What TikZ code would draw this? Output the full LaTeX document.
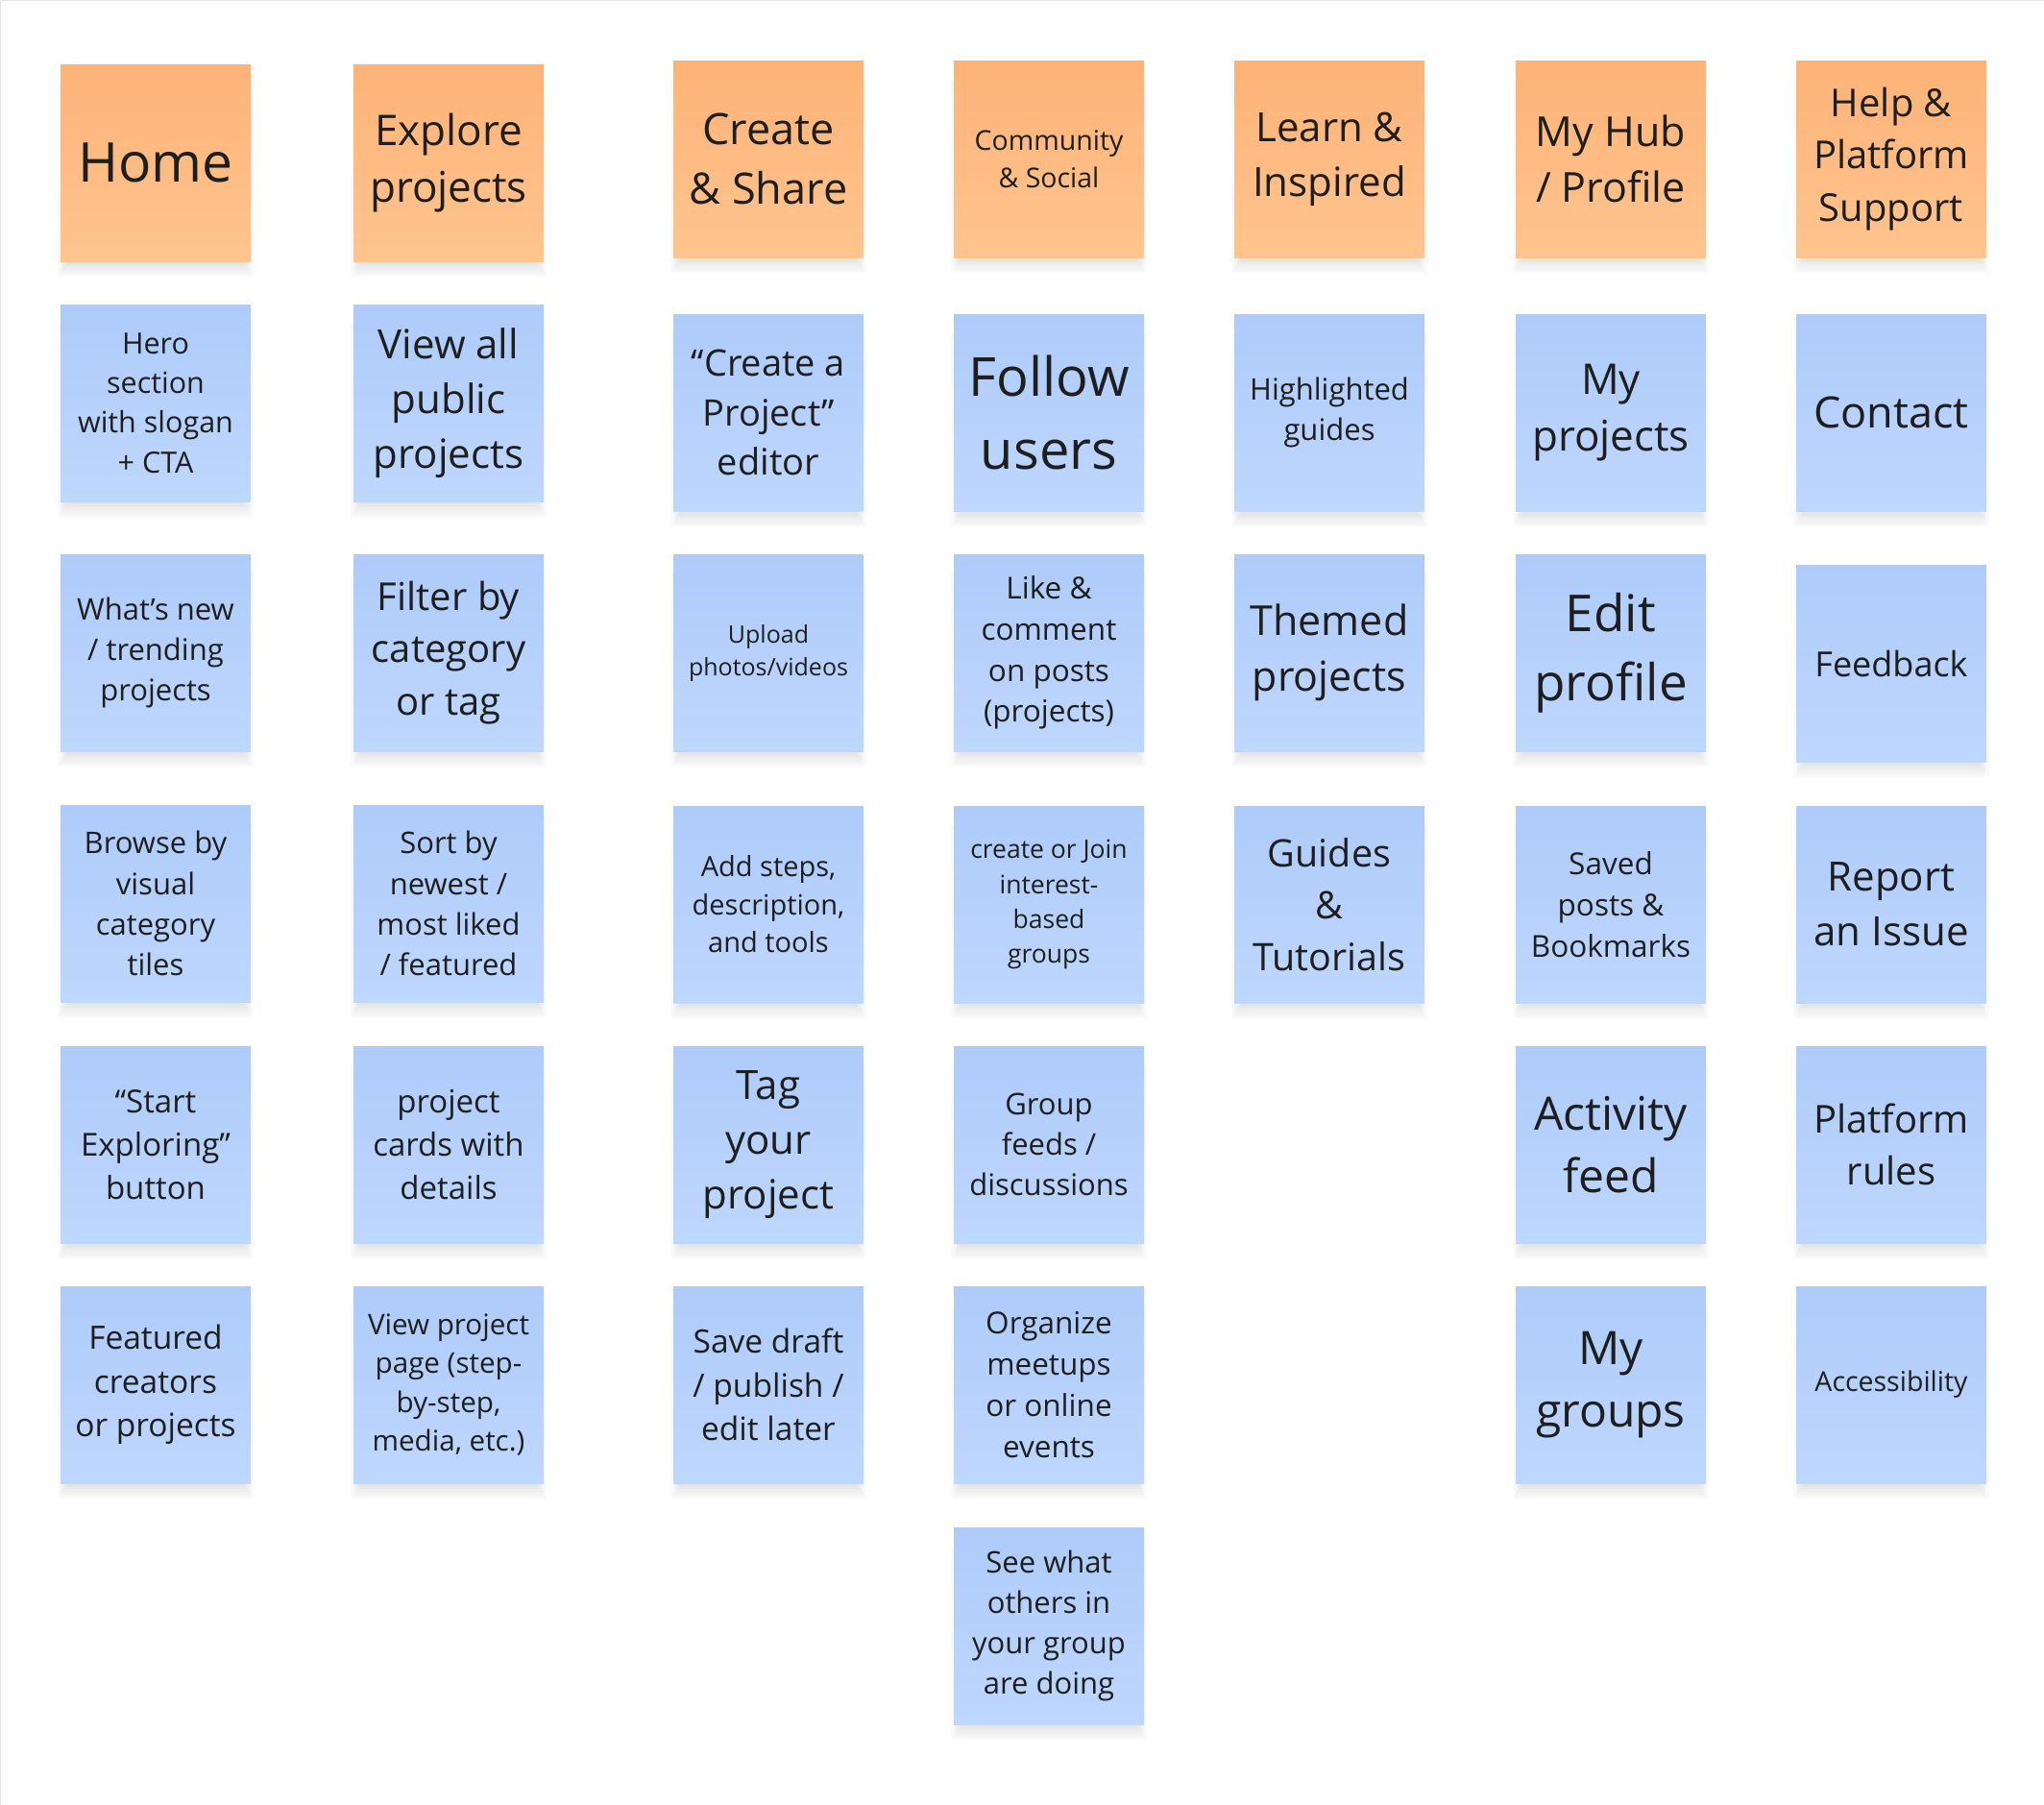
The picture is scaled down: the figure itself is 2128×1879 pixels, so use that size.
\documentclass[tikz,border=0pt]{standalone}
\usepackage{fontspec}
\setmainfont{Open Sans}
\definecolor{orgTop}{HTML}{FDB377}
\definecolor{orgBot}{HTML}{FFC48F}
\definecolor{bluTop}{HTML}{AECBFA}
\definecolor{bluBot}{HTML}{BED7FD}
\definecolor{inkc}{HTML}{1E1E1E}
\definecolor{framec}{HTML}{E6E6E6}
\tikzset{
  notebase/.style={rectangle, inner sep=0pt, minimum width=198pt, minimum height=205pt,
    align=center, text=inkc},
  orgnote/.style={notebase, top color=orgTop, bottom color=orgBot},
  blunote/.style={notebase, top color=bluTop, bottom color=bluBot},
  shadowlayer/.style={fill=black, opacity=0.013, draw=none}
}
\newcommand{\nfont}[1]{\pgfmathsetmacro\mylsk{#1*1.36}\fontsize{#1}{\mylsk}\selectfont}
% #1 name, #2 left x, #3 top y, #4 style, #5 font size, #6 text
\newcommand{\stickynote}[6]{%
  \foreach \k in {0,1,2,3,4,5,6,7,8,9}{%
    \fill[shadowlayer] (#2+8-1.2*\k,#3+20) rectangle (#2+190+1.2*\k,#3+206+1.8*\k);
  }%
  \node[#4, font={\nfont{#5}}] (#1) at (#2+99,#3+102.5) {#6};%
}
\begin{document}
\begin{tikzpicture}[x=1pt,y=-1pt]
\useasboundingbox (0,0) rectangle (2128,1879);
\fill[white] (0,0) rectangle (2128,1879);
\draw[framec, line width=2pt] (0,1879) -- (0,0) -- (2128,0);
% Column 1
\stickynote{home}{63}{67}{orgnote}{57}{Home}
\stickynote{hero}{63}{317}{blunote}{30.5}{Hero\\section\\with slogan\\+ CTA}
\stickynote{whatsnew}{63}{577}{blunote}{31}{What’s new\\/ trending\\projects}
\stickynote{browse}{63}{838}{blunote}{31}{Browse by\\visual\\category\\tiles}
\stickynote{startexp}{63}{1089}{blunote}{33}{“Start\\Exploring”\\button}
\stickynote{featured}{63}{1339}{blunote}{33.5}{Featured\\creators\\or projects}
% Column 2
\stickynote{explore}{368}{67}{orgnote}{44}{Explore\\projects}
\stickynote{viewall}{368}{317}{blunote}{42}{View all\\public\\projects}
\stickynote{filter}{368}{577}{blunote}{40}{Filter by\\category\\or tag}
\stickynote{sortby}{368}{838}{blunote}{31}{Sort by\\newest /\\most liked\\/ featured}
\stickynote{cards}{368}{1089}{blunote}{33}{project\\cards with\\details}
\stickynote{viewpage}{368}{1339}{blunote}{29.6}{View project\\page (step-\\by-step,\\media, etc.)}
% Column 3
\stickynote{create}{701}{63}{orgnote}{45}{Create\\\& Share}
\stickynote{editor}{701}{327}{blunote}{38}{“Create a\\Project”\\editor}
\stickynote{upload}{701}{577}{blunote}{25}{Upload\\photos/videos}
\stickynote{addsteps}{701}{839}{blunote}{29}{Add steps,\\description,\\and tools}
\stickynote{tag}{701}{1089}{blunote}{42}{Tag\\your\\project}
\stickynote{savedraft}{701}{1339}{blunote}{33.5}{Save draft\\/ publish /\\edit later}
% Column 4
\stickynote{community}{993}{63}{orgnote}{28.5}{Community\\\& Social}
\stickynote{follow}{993}{327}{blunote}{56}{Follow\\users}
\stickynote{like}{993}{577}{blunote}{31.5}{Like \&\\comment\\on posts\\(projects)}
\stickynote{join}{993}{839}{blunote}{26.5}{create or Join\\interest-\\based\\groups}
\stickynote{groupfeeds}{993}{1089}{blunote}{31}{Group\\feeds /\\discussions}
\stickynote{meetups}{993}{1339}{blunote}{31.5}{Organize\\meetups\\or online\\events}
\stickynote{seewhat}{993}{1590}{blunote}{31}{See what\\others in\\your group\\are doing}
% Column 5
\stickynote{learn}{1285}{63}{orgnote}{42}{Learn \&\\Inspired}
\stickynote{highlighted}{1285}{327}{blunote}{31}{Highlighted\\guides}
\stickynote{themed}{1285}{577}{blunote}{43}{Themed\\projects}
\stickynote{guides}{1285}{839}{blunote}{39.5}{Guides\\\&\\Tutorials}
% Column 6
\stickynote{myhub}{1578}{63}{orgnote}{43}{My Hub\\/ Profile}
\stickynote{myprojects}{1578}{327}{blunote}{44}{My\\projects}
\stickynote{editprofile}{1578}{577}{blunote}{53}{Edit\\profile}
\stickynote{saved}{1578}{839}{blunote}{31.5}{Saved\\posts \&\\Bookmarks}
\stickynote{activity}{1578}{1089}{blunote}{48}{Activity\\feed}
\stickynote{mygroups}{1578}{1339}{blunote}{48}{My\\groups}
% Column 7
\stickynote{help}{1870}{63}{orgnote}{40}{Help \&\\Platform\\Support}
\stickynote{contact}{1870}{327}{blunote}{45}{Contact}
\stickynote{feedback}{1870}{588}{blunote}{36}{Feedback}
\stickynote{report}{1870}{839}{blunote}{42}{Report\\an Issue}
\stickynote{rules}{1870}{1089}{blunote}{40}{Platform\\rules}
\stickynote{access}{1870}{1339}{blunote}{28.5}{Accessibility}
\end{tikzpicture}
\end{document}
